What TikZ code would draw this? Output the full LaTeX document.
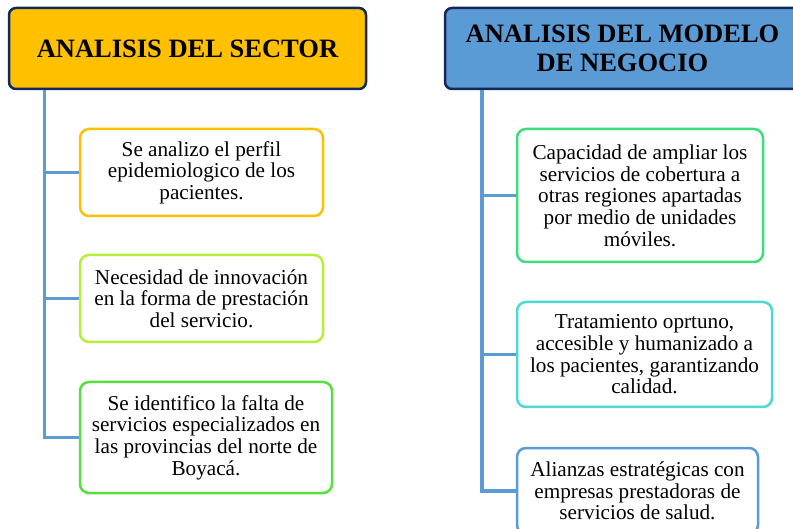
\documentclass[tikz,border=0pt]{standalone}
\usepackage{fontspec}
\setmainfont{Liberation Serif}
\usetikzlibrary{positioning}

\definecolor{headyellow}{HTML}{FFC000}
\definecolor{headblue}{HTML}{5B9BD5}
\definecolor{navy}{HTML}{10295A}
\definecolor{branchblue}{HTML}{5B9BD5}
\definecolor{limegreen}{HTML}{B4F03A}
\definecolor{grassgreen}{HTML}{55E03E}
\definecolor{mintgreen}{HTML}{3FDC7E}
\definecolor{turquoise}{HTML}{4ED8D2}

\begin{document}
\begin{tikzpicture}[
    x=1pt, y=-1pt,
    header/.style={
        draw=navy,
        line width=2.5pt,
        rounded corners=7pt,
        align=center,
        inner sep=0pt,
        font=\fontsize{26.5}{29}\selectfont\bfseries,
    },
    item/.style={
        draw=#1,
        fill=white,
        line width=2.5pt,
        rounded corners=9pt,
        align=center,
        inner sep=0pt,
        font=\fontsize{21.2}{21.7}\selectfont,
    },
    branch/.style={
        draw=branchblue,
        line width=3.2pt,
    }
]
    \useasboundingbox (0,0) rectangle (793,529);
    \clip (0,0) rectangle (793,529);

    % Headers
    \node[header, fill=headyellow, minimum width=357pt, minimum height=81pt]
        (sector) at (187.5,48.5) {ANALISIS DEL SECTOR};
    \node[header, fill=headblue, minimum width=355pt, minimum height=81pt]
        (modelo) at (622.5,48.5) {ANALISIS DEL MODELO\\DE NEGOCIO};

    % Branch tops
    \coordinate (ltop) at (44.5,90);
    \coordinate (rtop) at (482,90);

    % Sector items
    \node[item=headyellow, minimum width=243pt, minimum height=87pt]
        (s1) at (201.5,172.5) {Se analizo el perfil\\epidemiologico de los\\pacientes.};
    \node[item=limegreen, minimum width=243pt, minimum height=87pt]
        (s2) at (201.5,298.5) {Necesidad de innovación\\en la forma de prestación\\del servicio.};
    \node[item=grassgreen, minimum width=252pt, minimum height=111pt]
        (s3) at (206,437.5) {Se identifico la falta de\\servicios especializados en\\las provincias del norte de\\Boyacá.};

    % Modelo items
    \node[item=mintgreen, minimum width=246pt, minimum height=133pt]
        (m1) at (640,195.5) {Capacidad de ampliar los\\servicios de cobertura a\\otras regiones apartadas\\por medio de unidades\\móviles.};
    \node[item=turquoise, minimum width=255pt, minimum height=105pt]
        (m2) at (644.5,354.5) {Tratamiento oprtuno,\\accesible y humanizado a\\los pacientes, garantizando\\calidad.};
    \node[item=headblue, minimum width=241pt, minimum height=86pt]
        (m3) at (637.5,491) {Alianzas estratégicas con\\empresas prestadoras de\\servicios de salud.};

    % Branches
    \draw[branch] (ltop) |- (s1.west);
    \draw[branch] (ltop) |- (s2.west);
    \draw[branch] (ltop) |- (s3.west);
    \draw[branch] (rtop) |- (m1.west);
    \draw[branch] (rtop) |- (m2.west);
    \draw[branch] (rtop) |- (m3.west);
\end{tikzpicture}
\end{document}
